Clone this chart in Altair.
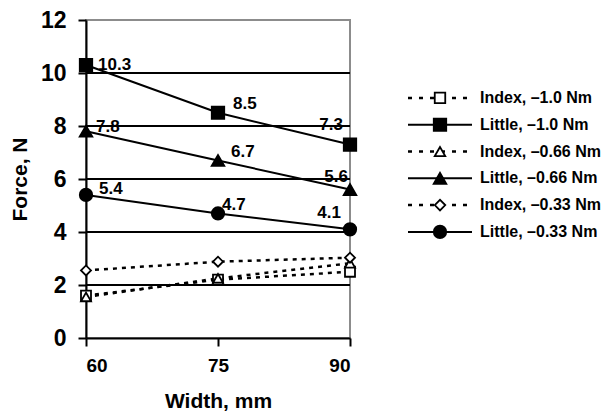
import altair as alt
import pandas as pd

widths = [60, 75, 90]
series_names = ["Index, –1.0 Nm", "Little, –1.0 Nm", "Index, –0.66 Nm",
                "Little, –0.66 Nm", "Index, –0.33 Nm", "Little, –0.33 Nm"]
index_10 = [1.6, 2.2, 2.5]
little_10 = [10.3, 8.5, 7.3]
index_066 = [1.55, 2.25, 2.82]
little_066 = [7.8, 6.7, 5.6]
index_033 = [2.55, 2.88, 3.03]
little_033 = [5.4, 4.7, 4.1]
y_ticks = [0, 2, 4, 6, 8, 10, 12]
grid_values = [2, 4, 6, 8, 10]

values = [index_10, little_10, index_066, little_066, index_033, little_033]
shapes = ["square", "square", "triangle-up", "triangle-up", "diamond", "circle"]
kinds = ["Index", "Little", "Index", "Little", "Index", "Little"]

rows = []
for i, (name, vals) in enumerate(zip(series_names, values)):
    for w, v in zip(widths, vals):
        rows.append({"series": name, "order": i, "kind": kinds[i], "shape": shapes[i],
                     "width": w, "force": v})
df = pd.DataFrame(rows)

FONT = "Liberation Sans"
xs = alt.X("width:Q", scale=alt.Scale(domain=[60, 90], nice=False),
           axis=alt.Axis(values=widths, title="Width, mm", grid=False,
                         domainColor="black", domainWidth=2, tickColor="black",
                         tickWidth=2, tickSize=8, labelFontSize=19, labelFont=FONT,
                         labelFontWeight="bold", labelColor="black", labelPadding=10,
                         titleFontSize=21, titleFont=FONT, titleFontWeight="bold",
                         titleColor="black", titlePadding=15))
ys = alt.Y("force:Q", scale=alt.Scale(domain=[0, 12], nice=False),
           axis=alt.Axis(values=y_ticks, title="Force, N", grid=False,
                         domainColor="black", domainWidth=2, tickColor="black",
                         tickWidth=2, tickSize=8, labelFontSize=23, labelFont=FONT,
                         labelFontWeight="bold", labelColor="black", labelPadding=12,
                         titleFontSize=21, titleFont=FONT, titleFontWeight="bold",
                         titleColor="black", titlePadding=10))

grid = alt.Chart(pd.DataFrame({"g": grid_values})).mark_rule(
    color="black", strokeWidth=2).encode(y=alt.Y("g:Q", scale=alt.Scale(domain=[0, 12], nice=False)))

idx = df[df["kind"] == "Index"]
lit = df[df["kind"] == "Little"]

index_lines = alt.Chart(idx).mark_line(color="black", strokeWidth=2.5, strokeDash=[4, 5]).encode(
    x=xs, y=ys, detail="series:N")
little_lines = alt.Chart(lit).mark_line(color="black", strokeWidth=2).encode(
    x=xs, y=ys, detail="series:N")

shape_scale = alt.Scale(domain=series_names, range=shapes)

index_pts = alt.Chart(idx).mark_point(filled=True, fill="white", stroke="black",
                                      strokeWidth=1.8, size=100, opacity=1).encode(
    x=xs, y=ys, shape=alt.Shape("series:N", scale=shape_scale, legend=None))
little_pts = alt.Chart(lit).mark_point(filled=True, fill="black", stroke="black",
                                       size=150, opacity=1).encode(
    x=xs, y=ys, shape=alt.Shape("series:N", scale=shape_scale, legend=None))

# label offsets (style): per (series, width)
label_offsets = {
    ("Little, –1.0 Nm", 60): ("left", 12, 0),
    ("Little, –1.0 Nm", 75): ("left", 15, -9),
    ("Little, –1.0 Nm", 90): ("right", -7, -20),
    ("Little, –0.66 Nm", 60): ("left", 10, -4),
    ("Little, –0.66 Nm", 75): ("left", 13, -8),
    ("Little, –0.66 Nm", 90): ("right", -2, -13),
    ("Little, –0.33 Nm", 60): ("left", 13, -6),
    ("Little, –0.33 Nm", 75): ("left", 4, -8),
    ("Little, –0.33 Nm", 90): ("right", -9, -16),
}
labels = []
for (s, w), (al, dx, dy) in label_offsets.items():
    labels.append(
        alt.Chart(lit).transform_filter(
            (alt.datum.series == s) & (alt.datum.width == w)
        ).mark_text(align=al, baseline="middle", dx=dx, dy=dy, font=FONT,
                    fontSize=17, fontWeight="bold", color="black").encode(
            x=xs, y=ys, text=alt.Text("force:Q", format=".1f"))
    )

main = alt.layer(grid, index_lines, little_lines, index_pts, little_pts, *labels).properties(
    width=264, height=318,
    view=alt.ViewBackground(stroke="#8c8c8c", strokeWidth=2))

# legend panel
leg_df = pd.DataFrame({"series": series_names, "order": list(range(6)),
                       "kind": kinds, "shape": shapes})
ly = alt.Y("order:Q", scale=alt.Scale(domain=[-2.91, 8.96], reverse=True, nice=False), axis=None)
leg_idx = leg_df[leg_df["kind"] == "Index"]
leg_lit = leg_df[leg_df["kind"] == "Little"]
leg_dash = alt.Chart(leg_idx).mark_rule(color="black", strokeWidth=2.5, strokeDash=[4, 7]).encode(
    x=alt.value(0), x2=alt.value(64), y=ly)
leg_solid = alt.Chart(leg_lit).mark_rule(color="black", strokeWidth=2).encode(
    x=alt.value(0), x2=alt.value(64), y=ly)
leg_ipts = alt.Chart(leg_idx).mark_point(filled=True, fill="white", stroke="black",
                                         strokeWidth=1.8, size=110, opacity=1).encode(
    x=alt.value(32), y=ly, shape=alt.Shape("series:N", scale=shape_scale, legend=None))
leg_lpts = alt.Chart(leg_lit).mark_point(filled=True, fill="black", stroke="black",
                                         size=150, opacity=1).encode(
    x=alt.value(32), y=ly, shape=alt.Shape("series:N", scale=shape_scale, legend=None))
leg_text = alt.Chart(leg_df).mark_text(align="left", baseline="middle", font=FONT,
                                       fontSize=16, fontWeight="bold", color="black").encode(
    x=alt.value(72), y=ly, text="series:N")
legend = alt.layer(leg_dash, leg_solid, leg_ipts, leg_lpts, leg_text).properties(
    width=180, height=318, view=alt.ViewBackground(stroke=None))

chart = alt.hconcat(main, legend, spacing=44).resolve_scale(shape="shared").properties(
    padding={"left": 0, "top": 0, "right": 0, "bottom": 0}
).configure_view(stroke=None).configure(background="white")

chart.save("out.html", embed_options={"renderer": "svg", "actions": False})
